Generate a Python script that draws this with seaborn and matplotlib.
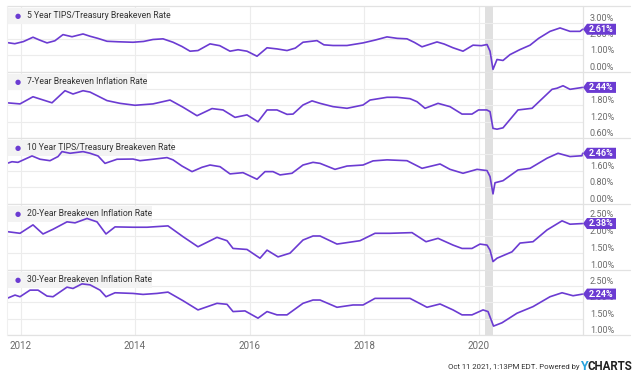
import matplotlib
matplotlib.use("Agg")
import matplotlib.pyplot as plt
import seaborn as sns
import pandas as pd
from matplotlib.patches import Rectangle, Polygon
from matplotlib.lines import Line2D

# ---------------- data ----------------
titles = ["5 Year TIPS/Treasury Breakeven Rate",
          "7-Year Breakeven Inflation Rate",
          "10 Year TIPS/Treasury Breakeven Rate",
          "20-Year Breakeven Inflation Rate",
          "30-Year Breakeven Inflation Rate"]
last_values = [2.61, 2.44, 2.46, 2.38, 2.24]
x_ticks = [2012, 2014, 2016, 2018, 2020]
x_tick_labels = ["2012", "2014", "2016", "2018", "2020"]
recession = [2020.11, 2020.26]
y_ticks_5y = [0.0, 1.0, 2.0, 3.0]
y_ticks_7y = [0.6, 1.2, 1.8, 2.4]
y_ticks_10y = [0.0, 0.8, 1.6, 2.4]
y_ticks_20y = [1.0, 1.5, 2.0, 2.5]
y_ticks_30y = [1.0, 1.5, 2.0, 2.5]
# tick labels hidden behind the value badge in the reference
hidden_ticks = [[], [2.4], [2.4], [], []]

t_5y = [2011.764, 2011.90, 2012.05, 2012.218, 2012.33, 2012.463, 2012.60, 2012.742, 2012.90,
        2013.092, 2013.214, 2013.35, 2013.511, 2013.70, 2013.965, 2014.15, 2014.314, 2014.489,
        2014.664, 2014.82, 2014.961, 2015.10, 2015.31, 2015.48, 2015.659, 2015.80, 2015.956,
        2016.131, 2016.306, 2016.48, 2016.655, 2016.80, 2016.934, 2017.179, 2017.30, 2017.459,
        2017.703, 2017.983, 2018.20, 2018.402, 2018.58, 2018.751, 2018.88, 2019.013, 2019.275,
        2019.40, 2019.555, 2019.729, 2019.904, 2020.05, 2020.149, 2020.201, 2020.253, 2020.323,
        2020.428, 2020.55, 2020.725, 2020.900, 2021.05, 2021.249, 2021.424, 2021.598, 2021.773,
        2021.82]
v_5y = [1.79, 1.72, 1.85, 2.12, 1.95, 1.77, 1.90, 2.28, 2.15,
        2.32, 2.18, 2.05, 1.87, 1.84, 1.81, 1.86, 1.98, 2.02,
        1.81, 1.55, 1.26, 1.30, 1.71, 1.60, 1.26, 1.35, 1.26,
        0.95, 1.47, 1.40, 1.30, 1.45, 1.81, 1.91, 1.65, 1.61,
        1.61, 1.77, 1.95, 2.14, 2.05, 2.02, 1.80, 1.53, 1.83,
        1.70, 1.47, 1.26, 1.63, 1.60, 1.67, 1.26, 0.14, 0.75,
        0.69, 1.05, 1.36, 1.63, 2.05, 2.48, 2.69, 2.48, 2.48,
        2.61]

t_7y = [2011.764, 2011.991, 2012.218, 2012.55, 2012.777, 2012.917, 2013.092, 2013.214, 2013.511,
        2013.738, 2014.0, 2014.314, 2014.611, 2014.838, 2015.083, 2015.345, 2015.537, 2015.747,
        2015.956, 2016.148, 2016.306, 2016.48, 2016.655, 2016.76, 2016.934, 2017.092, 2017.232,
        2017.459, 2017.703, 2017.983, 2018.105, 2018.402, 2018.576, 2018.803, 2018.926, 2019.066,
        2019.293, 2019.502, 2019.712, 2019.886, 2020.0, 2020.144, 2020.201, 2020.253, 2020.323,
        2020.428, 2020.690, 2020.935, 2021.284, 2021.371, 2021.476, 2021.598, 2021.82]
v_7y = [1.88, 1.84, 2.10, 1.88, 2.32, 2.20, 2.32, 2.27, 1.96,
        1.86, 1.79, 1.84, 1.98, 1.72, 1.41, 1.67, 1.62, 1.35,
        1.44, 1.19, 1.62, 1.62, 1.46, 1.47, 1.80, 1.95, 1.86,
        1.74, 1.68, 1.80, 1.98, 2.08, 2.08, 2.03, 1.92, 1.68,
        1.86, 1.74, 1.47, 1.47, 1.62, 1.62, 1.56, 0.95, 0.92,
        0.97, 1.62, 1.68, 2.37, 2.41, 2.50, 2.37, 2.44]

t_10y = [2011.764, 2011.852, 2011.956, 2012.201, 2012.341, 2012.515, 2012.655, 2012.725, 2012.865,
         2013.092, 2013.214, 2013.354, 2013.476, 2013.686, 2013.965, 2014.087, 2014.314, 2014.559,
         2014.664, 2014.821, 2014.996, 2015.170, 2015.310, 2015.485, 2015.659, 2015.886, 2016.131,
         2016.271, 2016.410, 2016.533, 2016.742, 2016.934, 2017.109, 2017.232, 2017.493, 2017.703,
         2017.983, 2018.157, 2018.402, 2018.751, 2019.013, 2019.328, 2019.502, 2019.729, 2019.974,
         2020.149, 2020.201, 2020.253, 2020.288, 2020.428, 2020.690, 2020.900, 2021.197, 2021.389,
         2021.598, 2021.808, 2021.82]
v_10y = [1.97, 2.05, 2.02, 2.33, 2.17, 2.10, 2.30, 2.54, 2.46,
         2.54, 2.46, 2.33, 1.97, 2.17, 2.18, 2.10, 2.17, 2.25,
         2.14, 1.84, 1.57, 1.78, 1.89, 1.81, 1.46, 1.52, 1.20,
         1.57, 1.57, 1.41, 1.49, 1.89, 2.02, 1.97, 1.68, 1.84,
         1.89, 2.09, 2.14, 2.10, 1.73, 1.94, 1.68, 1.49, 1.68,
         1.62, 1.33, 0.49, 1.03, 1.13, 1.65, 1.73, 2.22, 2.46,
         2.30, 2.34, 2.46]

t_20y = [2011.764, 2011.991, 2012.218, 2012.393, 2012.568, 2012.812, 2012.952, 2013.162, 2013.336,
         2013.493, 2013.651, 2013.965, 2014.210, 2014.576, 2014.838, 2015.100, 2015.432, 2015.607,
         2015.712, 2015.956, 2016.183, 2016.306, 2016.498, 2016.707, 2016.934, 2017.109, 2017.232,
         2017.528, 2017.930, 2018.192, 2018.454, 2018.838, 2019.083, 2019.293, 2019.555, 2019.712,
         2019.886, 2020.026, 2020.149, 2020.201, 2020.253, 2020.323, 2020.585, 2020.725, 2020.952,
         2021.197, 2021.459, 2021.598, 2021.82]
v_20y = [2.14, 2.09, 2.34, 2.07, 2.21, 2.43, 2.40, 2.53, 2.43,
         2.07, 2.28, 2.27, 2.27, 2.31, 1.99, 1.69, 1.97, 1.87,
         1.64, 1.61, 1.35, 1.59, 1.39, 1.50, 1.89, 2.01, 2.01,
         1.77, 1.87, 2.09, 2.09, 2.11, 1.84, 1.94, 1.74, 1.64,
         1.64, 1.77, 1.74, 1.59, 1.25, 1.35, 1.54, 1.80, 1.84,
         2.19, 2.46, 2.36, 2.38]

t_30y = [2011.764, 2011.904, 2011.991, 2012.166, 2012.306, 2012.463, 2012.568, 2012.812, 2012.917,
         2013.074, 2013.214, 2013.389, 2013.493, 2013.651, 2013.965, 2014.140, 2014.384, 2014.576,
         2014.838, 2015.100, 2015.432, 2015.607, 2015.712, 2015.921, 2016.148, 2016.306, 2016.480,
         2016.655, 2016.934, 2017.109, 2017.232, 2017.528, 2017.808, 2017.983, 2018.192, 2018.402,
         2018.803, 2019.100, 2019.328, 2019.555, 2019.712, 2019.886, 2020.079, 2020.166, 2020.262,
         2020.410, 2020.672, 2020.952, 2021.249, 2021.459, 2021.651, 2021.82]
v_30y = [2.11, 2.21, 2.16, 2.36, 2.36, 2.18, 2.16, 2.45, 2.41,
         2.55, 2.52, 2.36, 2.16, 2.28, 2.26, 2.23, 2.26, 2.30,
         2.04, 1.76, 1.96, 1.93, 1.71, 1.73, 1.51, 1.71, 1.61,
         1.61, 1.96, 2.06, 2.06, 1.84, 1.91, 1.91, 2.11, 2.11,
         2.11, 1.84, 1.94, 1.76, 1.61, 1.61, 1.76, 1.71, 1.27,
         1.37, 1.66, 1.86, 2.16, 2.28, 2.19, 2.24]

series = [(t_5y, v_5y, y_ticks_5y, (-0.02, 4.04)),
          (t_7y, v_7y, y_ticks_7y, (0.6, 3.0)),
          (t_10y, v_10y, y_ticks_10y, (0.0, 3.2)),
          (t_20y, v_20y, y_ticks_20y, (1.0, 2.96)),
          (t_30y, v_30y, y_ticks_30y, (1.0, 2.97))]

# ---------------- style ----------------
sns.set_theme(style="white")
plt.rcParams["font.family"] = ["Roboto", "DejaVu Sans"]

PURPLE = "#6b3bd2"
GRID = "#ececec"
SEP = "#e2e2e2"
W, H = 640, 376

fig = plt.figure(figsize=(6.4, 3.76), dpi=100)
fig.patch.set_facecolor("white")

tops = [6, 72, 138, 204, 270]
heights = [66, 66, 66, 66, 65]
box_widths = [163, 140, 166, 145, 145]
left_px, right_px = 7, 583
xmin, xmax = 2011.764, 2021.825
fmt = "{:.2f}%"
TF = fig.transFigure

axes = []
for i, ((t, v, yt, ylim), title, top, hgt, last, bw, hid) in enumerate(
        zip(series, titles, tops, heights, last_values, box_widths, hidden_ticks)):
    ax = fig.add_axes([left_px / W, 1 - (top + hgt) / H, (right_px - left_px) / W, hgt / H])
    ax.set_facecolor("none")
    df = pd.DataFrame({"date": t, "rate": v})
    sns.lineplot(data=df, x="date", y="rate", ax=ax, color=PURPLE, linewidth=1.2, zorder=4)
    ax.set_xlim(xmin, xmax)
    ax.set_ylim(*ylim)
    ax.axvspan(recession[0], recession[1], color="#e0e0e0", lw=0, zorder=0.5)
    ax.set_xticks(x_ticks)
    ax.set_yticks(yt)
    ax.grid(True, color=GRID, lw=0.8, zorder=0)
    ax.set_axisbelow(True)
    ax.set_xlabel("")
    ax.set_ylabel("")
    for s in ax.spines.values():
        s.set_visible(False)
    ax.yaxis.tick_right()
    ax.set_yticklabels(["" if y in hid else fmt.format(y) for y in yt])
    ax.tick_params(axis="y", length=0, pad=5, labelsize=6.5, labelcolor="#6a6a6a")
    for lab in ax.get_yticklabels():
        lab.set_va("bottom")
    if i == 4:
        ax.set_xticklabels(x_tick_labels)
        ax.tick_params(axis="x", length=0, pad=4, labelsize=7, labelcolor="#6a6a6a")
    else:
        ax.set_xticklabels([])
        ax.tick_params(axis="x", length=0)

    # title box (behind the line)
    ax.add_patch(Rectangle((left_px / W, 1 - (top + 18) / H), bw / W, 16 / H,
                           transform=TF, facecolor="#f3f3f3", edgecolor="none",
                           zorder=1, clip_on=False))
    ax.text(18 / W, 1 - (top + 10) / H, "\u25CF", color=PURPLE, fontsize=5,
            ha="center", va="center", family="DejaVu Sans", transform=TF, zorder=2)
    ax.text(27 / W, 1 - (top + 10) / H, title, color="#333333", fontsize=6.2,
            ha="left", va="center", transform=TF, zorder=2)
    axes.append((ax, last))

fig.canvas.draw()
for ax, last in axes:
    yd = ax.transData.transform((xmax, last))[1]
    yp = H - yd
    pts = [(583, yp), (587, yp - 5.5), (616, yp - 5.5), (616, yp + 5.5), (587, yp + 5.5)]
    fig.add_artist(Polygon([(x / W, 1 - y / H) for x, y in pts], closed=True,
                           transform=TF, facecolor=PURPLE, edgecolor="none", zorder=6))
    fig.text(601.5 / W, 1 - yp / H, fmt.format(last), color="white", fontsize=6.5,
             fontweight="bold", ha="center", va="center", zorder=7)

# separators and frame
for yy in [6, 72, 138, 204, 270, 335]:
    fig.add_artist(Line2D([left_px / W, 630 / W], [1 - yy / H, 1 - yy / H],
                          transform=TF, color=SEP, lw=0.9, zorder=3))
fig.add_artist(Line2D([right_px / W, right_px / W], [1 - 6 / H, 1 - 335 / H],
                      transform=TF, color=SEP, lw=0.9, zorder=3))
fig.add_artist(Line2D([left_px / W, left_px / W], [1 - 6 / H, 1 - 335 / H],
                      transform=TF, color="#f0f0f0", lw=0.8, zorder=3))

# footer
fy = 1 - 367 / H
fig.text(579 / W, fy, "Oct 11 2021, 1:13PM EDT. Powered by", color="#333333",
         fontsize=5.6, ha="right", va="center")
fig.text(580 / W, fy, "Y", color="#27a2dd", fontsize=9, fontweight="bold",
         ha="left", va="center")
fig.text(588 / W, fy, "CHARTS", color="#1f1f1f", fontsize=8.3, fontweight="bold",
         ha="left", va="center")

fig.savefig("out.png", dpi=100)
